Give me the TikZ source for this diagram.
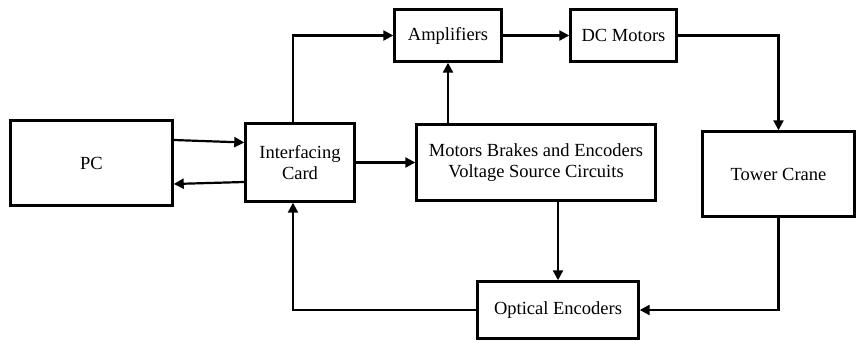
\documentclass[tikz,border=0pt]{standalone}
\usepackage{fontspec}
\setmainfont{Liberation Serif}
\usetikzlibrary{arrows.meta}

\begin{document}
\begin{tikzpicture}[
  x=1pt, y=1pt,
  blk/.style={draw, line width=2.4pt, inner sep=2pt,
              font=\fontsize{18.5}{21}\selectfont, align=center},
  arr/.style={-{Triangle[length=10pt,width=10pt]}, line width=2.2pt},
]
\path[use as bounding box] (0,0) rectangle (856,340);

% ---- Blocks ----------------------------------------------------------------
\node[blk, minimum width=162pt, minimum height=85pt] (pc)    at (91.5, 177)  {PC};
\node[blk, minimum width=109pt, minimum height=78pt] (card)  at (300, 177.5) {Interfacing\\Card};
\node[blk, minimum width=107pt, minimum height=52pt] (amp)   at (448, 304.5) {Amplifiers};
\node[blk, minimum width=106pt, minimum height=52pt] (dcm)   at (623.5, 304.5) {DC Motors};
\node[blk, minimum width=239pt, minimum height=76pt] (vsc)   at (536, 177.5) {Motors Brakes and Encoders\\Voltage Source Circuits};
\node[blk, minimum width=152pt, minimum height=85pt] (crane) at (778.5, 166) {Tower Crane};
\node[blk, minimum width=161pt, minimum height=57pt] (enc)   at (558, 30)    {Optical Encoders};

% ---- PC <-> card -----------------------------------------------------------
\draw[arr] ([yshift=23pt]pc.east) -- ([yshift=20pt]card.west);
\draw[arr] ([yshift=-19.5pt]card.west) -- ([yshift=-21pt]pc.east);

% ---- Forward path ----------------------------------------------------------
\draw[arr] ([xshift=-7pt]card.north) |- (amp.west);
\draw[arr] (card.east) -- (vsc.west);
\draw[arr] (vsc.north -| amp) -- (amp.south);
\draw[arr] (amp.east) -- (dcm.west);
\draw[arr] (dcm.east) -| (crane.north);

% ---- Feedback --------------------------------------------------------------
\draw[arr] (crane.south) |- (enc.east);
\draw[arr] (vsc.south -| enc) -- (enc.north);
\draw[arr] (enc.west) -| ([xshift=-7pt]card.south);

\end{tikzpicture}
\end{document}
